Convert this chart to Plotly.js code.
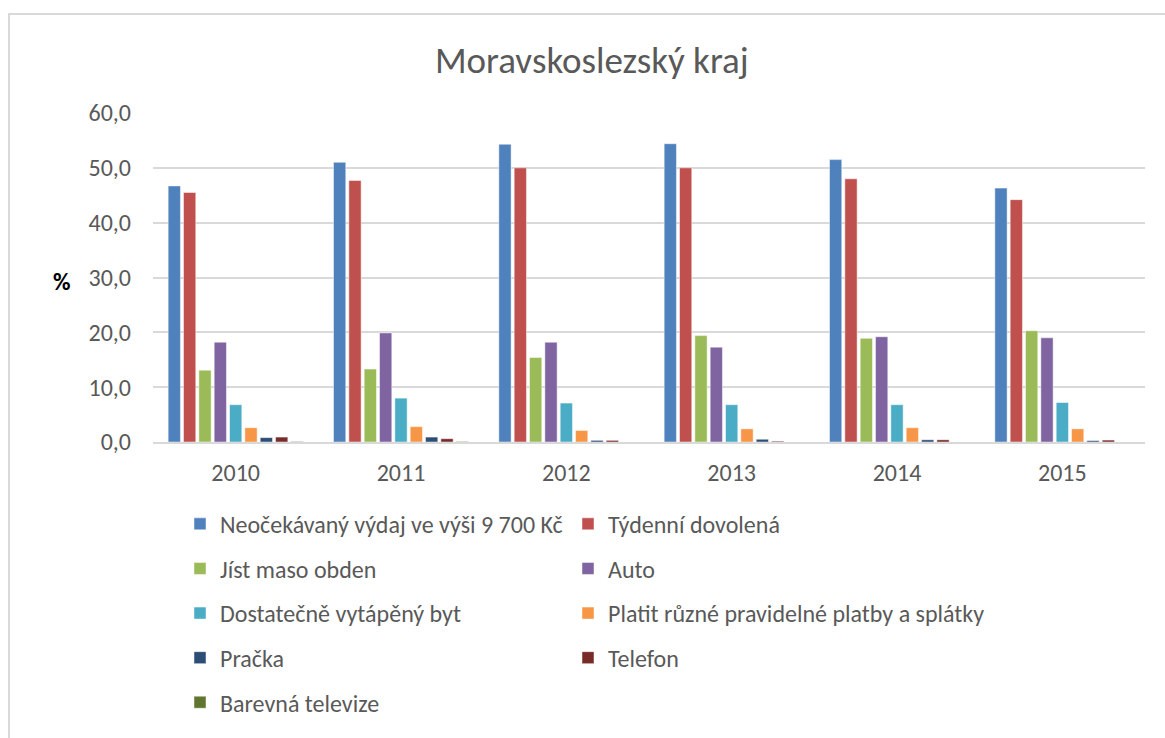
<!DOCTYPE html>
<html>
<head>
<meta charset="utf-8">
<script src="https://cdn.plot.ly/plotly-3.0.1.min.js"></script>
<style>
  html, body { margin: 0; padding: 0; background: #fff; }
  #frame { position: absolute; left: 8px; top: 13px; width: 1160px; height: 730px;
           border-top: 2px solid #d9d9d9; border-left: 2px solid #d9d9d9; }
  #chart { position: absolute; left: 0; top: 0; width: 1165px; height: 738px; }
</style>
</head>
<body>
<div id="frame"></div>
<div id="chart"></div>
<script>
const years = ['2010', '2011', '2012', '2013', '2014', '2015'];
const seriesNames = [
  'Neočekávaný výdaj ve výši 9 700 Kč',
  'Týdenní dovolená',
  'Jíst maso obden',
  'Auto',
  'Dostatečně vytápěný byt',
  'Platit různé pravidelné platby a splátky',
  'Pračka',
  'Telefon',
  'Barevná televize'
];
const neocekavany = [46.7, 51.0, 54.3, 54.4, 51.5, 46.3];
const tydenni     = [45.5, 47.7, 50.0, 50.0, 48.0, 44.2];
const maso        = [13.1, 13.3, 15.4, 19.4, 18.9, 20.3];
const auto        = [18.2, 19.9, 18.2, 17.3, 19.2, 19.0];
const byt         = [6.8, 8.0, 7.1, 6.8, 6.8, 7.2];
const platby      = [2.6, 2.8, 2.1, 2.4, 2.6, 2.4];
const pracka      = [0.8, 0.9, 0.3, 0.5, 0.4, 0.25];
const telefon     = [0.9, 0.6, 0.3, 0.15, 0.4, 0.35];
const televize    = [0.1, 0.1, 0.0, 0.0, 0.0, 0.0];
const colors = ['#4F81BD', '#C0504D', '#9BBB59', '#8064A2', '#4BACC6', '#F79646', '#2C4D75', '#772C2A', '#5F7530'];
const allValues = [neocekavany, tydenni, maso, auto, byt, platby, pracka, telefon, televize];

const FONT = 'Carlito, Calibri, Lato, sans-serif';
const GREY = '#595959';

const legendKey = i => (i === 0 ? 'legend' : 'legend' + (i + 1));

const traces = seriesNames.map((name, i) => ({
  type: 'bar',
  name: name,
  x: years,
  y: allValues[i],
  legend: legendKey(i),
  marker: { color: colors[i], line: { color: 'rgba(255,255,255,0.6)', width: 0.8 } },
  hoverinfo: 'x+y+name'
}));

const plotLeft = 153, plotRight = 1145, pw = plotRight - plotLeft;
const plotTop = 113, plotBottom = 445, ph = plotBottom - plotTop;
const rowPx = [528, 573, 618, 663, 708];
const colPx = [180, 568];

const layout = {
  width: 1165, height: 738,
  margin: { l: plotLeft, r: 1165 - plotRight, t: plotTop, b: 738 - plotBottom, pad: 0 },
  paper_bgcolor: 'rgba(0,0,0,0)',
  plot_bgcolor: 'rgba(0,0,0,0)',
  separators: ', ',
  font: { family: FONT, size: 24, color: GREY },
  title: { text: 'Moravskoslezský kraj', font: { family: FONT, size: 37, color: GREY },
           x: 0.508, xanchor: 'center', y: 1 - 60 / 738, yanchor: 'middle' },
  barmode: 'group',
  bargap: 0.165,
  bargroupgap: 0.2,
  xaxis: {
    type: 'category', showgrid: false, zeroline: false,
    showline: true, linecolor: '#d9d9d9', linewidth: 1.5,
    ticks: '', tickfont: { family: FONT, size: 24, color: GREY },
    ticklabelstandoff: 8
  },
  yaxis: {
    range: [0, 60], dtick: 10, tick0: 0, tickformat: '.1f',
    showgrid: true, gridcolor: '#d9d9d9', gridwidth: 1.5,
    zeroline: false, showline: false, ticks: '',
    tickfont: { family: FONT, size: 24, color: GREY },
    ticklabelstandoff: 21
  },
  annotations: [{
    text: '<b>%</b>', xref: 'paper', yref: 'paper',
    x: (62 - plotLeft) / pw, y: (plotBottom - 283) / ph, xanchor: 'center', yanchor: 'middle',
    showarrow: false, font: { family: FONT, size: 24, color: '#000' }
  }],
  showlegend: true
};

seriesNames.forEach((name, i) => {
  const row = Math.floor(i / 2), col = i % 2;
  layout[legendKey(i)] = {
    orientation: 'v', xanchor: 'left', yanchor: 'middle',
    x: (colPx[col] - plotLeft) / pw,
    y: (plotBottom - rowPx[row]) / ph,
    font: { family: FONT, size: 24, color: GREY },
    bgcolor: 'rgba(0,0,0,0)'
  };
});

Plotly.newPlot('chart', traces, layout, { displayModeBar: false, responsive: false });
</script>
</body>
</html>
